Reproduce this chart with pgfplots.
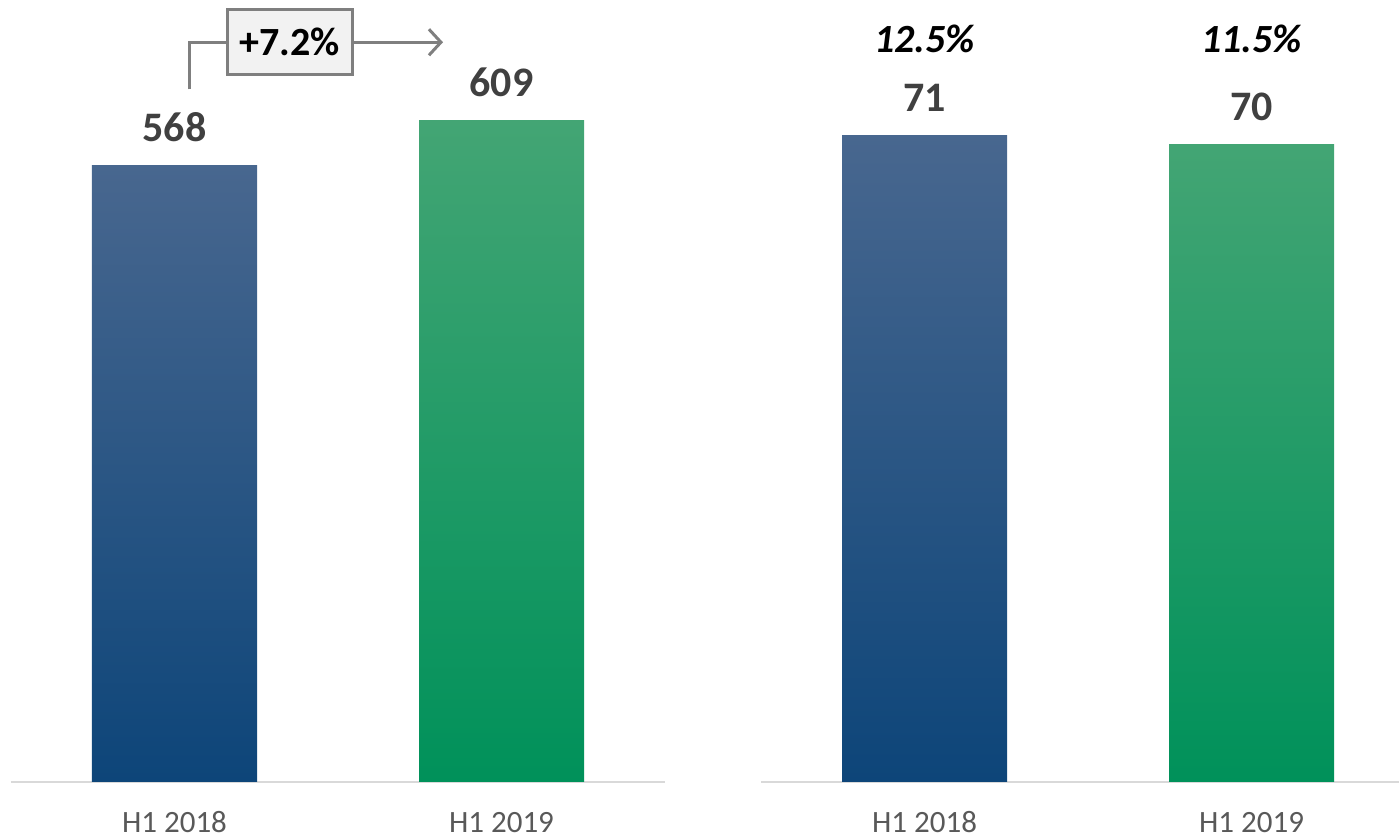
\documentclass[border=0pt]{standalone}
\usepackage{pgfplots}
\pgfplotsset{compat=1.18}
\usepackage{fontspec}
\setmainfont{Carlito}
\usetikzlibrary{arrows.meta}

\definecolor{blueTop}{HTML}{48678F}
\definecolor{blueBot}{HTML}{0D4579}
\definecolor{greenTop}{HTML}{43A574}
\definecolor{greenBot}{HTML}{00915A}
\definecolor{labelgray}{HTML}{404040}
\definecolor{tickgray}{HTML}{595959}
\definecolor{axisgray}{HTML}{D9D9D9}
\definecolor{arrowgray}{HTML}{7F7F7F}
\definecolor{boxfill}{HTML}{F2F2F2}

\pgfplotsset{
  panel/.style={
    scale only axis,
    anchor=south west,
    height=391pt,
    ymin=0,
    axis x line*=bottom,
    axis y line=none,
    x axis line style={draw=axisgray, line width=1pt, -},
    xtick={0,1},
    xticklabels={H1 2018, H1 2019},
    major tick length=0pt,
    xticklabel style={font=\fontsize{15.5}{18}\selectfont, text=tickgray, anchor=base, inner sep=0pt, yshift=-25.5pt},
    ytick=\empty,
    clip=false,
    ybar,
    bar width=82.5pt,
    bar shift=0pt,
    /pgf/number format/assume math mode=true,
    nodes near coords,
    nodes near coords style={font=\bfseries\fontsize{21}{25}\selectfont, text=labelgray, anchor=south, inner sep=0pt, yshift=11.5pt},
  },
}

\begin{document}
\begin{tikzpicture}
\path[use as bounding box] (0pt,0pt) rectangle (699.5pt,419.5pt);

% left panel
\begin{axis}[panel, at={(5.5pt,28.5pt)}, width=327pt, xmin=-0.5, xmax=1.5, ymax=720]
\addplot[draw=none, top color=blueTop, middle color=blueBot, bottom color=blueBot] coordinates {(0,568)};
\addplot[draw=none, top color=greenTop, middle color=greenBot, bottom color=greenBot] coordinates {(1,609)};
\node[draw=arrowgray, fill=boxfill, line width=1.5pt, minimum width=62.5pt, minimum height=32.5pt, inner sep=0pt,
      font=\bfseries\fontsize{20}{24}\selectfont] (box) at (axis cs:0.3517,681.1) {+7.2\%};
\draw[arrowgray, line width=1.5pt] (axis cs:0.0474,637.8) |- (box.west);
\draw[arrowgray, line width=1.5pt, -{Straight Barb[length=6pt,width=13pt]}] (box.east) -- (axis cs:0.8211,681.1);
\end{axis}

% right panel
\begin{axis}[panel, at={(380.5pt,28.5pt)}, width=319pt, xmin=-0.5, xmax=1.451, ymax=85.84]
\addplot[draw=none, top color=blueTop, middle color=blueBot, bottom color=blueBot] coordinates {(0,71)};
\addplot[draw=none, top color=greenTop, middle color=greenBot, bottom color=greenBot] coordinates {(1,70)};
\node[anchor=base, font=\bfseries\itshape\fontsize{20}{24}\selectfont] at (axis cs:0,80.1) {12.5\%};
\node[anchor=base, font=\bfseries\itshape\fontsize{20}{24}\selectfont] at (axis cs:1,80.1) {11.5\%};
\end{axis}
\end{tikzpicture}
\end{document}
